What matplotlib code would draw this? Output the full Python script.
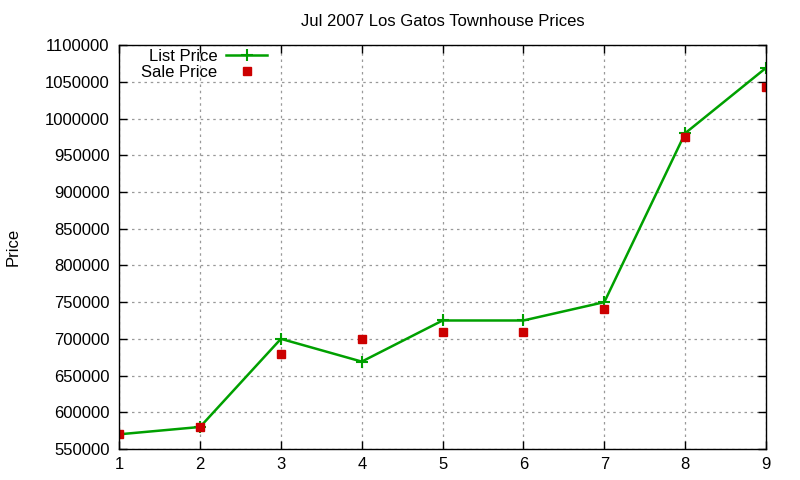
import matplotlib
matplotlib.use("Agg")
import matplotlib.pyplot as plt

x = [1, 2, 3, 4, 5, 6, 7, 8, 9]
list_price = [570000, 580000, 700000, 669000, 725000, 725000, 750000, 980000, 1069000]
sale_price = [570000, 580000, 680000, 700000, 710000, 710000, 740000, 975000, 1043000]
yticks = list(range(550000, 1100001, 50000))

plt.rcParams['font.family'] = ['Liberation Sans', 'DejaVu Sans']
fig = plt.figure(figsize=(8, 4.8), dpi=100)
ax = fig.add_axes([0.149, 0.0646, 0.8085, 0.8414])

ax.plot(x, list_price, color='#00a000', lw=1.8, marker='+', ms=9, mew=1.5, label='List Price')
ax.plot(x, sale_price, ls='none', marker='s', color='#cc0000', ms=6, label='Sale Price')

ax.set_xlim(1, 9)
ax.set_ylim(550000, 1100000)
ax.set_xticks(x)
ax.set_yticks(yticks)
ax.set_yticklabels([str(v) for v in yticks])
ax.tick_params(direction='in', top=True, right=True, labelsize=12, length=6, pad=7, width=1)
ax.tick_params(axis='x', pad=6)
ax.grid(True, ls=(0, (2, 3)), color='#999999', lw=0.9)
for s in ax.spines.values():
    s.set_linewidth(1.0)

ax.set_title('Jul 2007 Los Gatos Townhouse Prices', fontsize=12, pad=14)
ax.set_ylabel('Price', fontsize=12)
ax.yaxis.set_label_coords(-0.153, 0.5)

leg = ax.legend(loc='upper left', markerfirst=False, frameon=False, fontsize=12,
                bbox_to_anchor=(0.016, 1.02), handlelength=2.5, borderaxespad=0.3,
                labelspacing=0.05, handletextpad=0.5)
for t in leg.get_texts():
    t.set_ha('right')
fig.savefig('out.png', dpi=100)
